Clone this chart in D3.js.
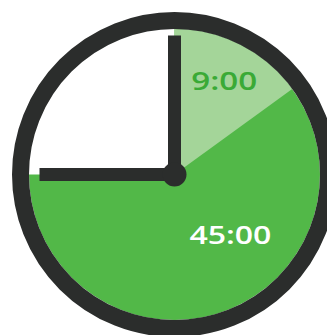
<!DOCTYPE html>
<html><head><meta charset="utf-8">
<script src="https://cdn.jsdelivr.net/npm/d3@7"></script>
<style>html,body{margin:0;padding:0;background:#fff;overflow:hidden}</style>
</head><body>
<svg id="chart" width="327" height="335"></svg>
<script>
// data (minutes on a 60-minute dial)
const dialMinutes = [0, 60];
const segmentNames = ["total", "elapsed"];
const segmentStart = [0, 0];
const segmentEnd = [45, 9];
const segmentLabels = ["45:00", "9:00"];
const handNames = ["minute", "hour"];
const handMinutes = [0, 45];

const svg = d3.select("#chart");
const cx = 174.5, cy = 174.5;
const ringR = 154, ringW = 17;
const pieR = ringR - ringW / 2;

const angle = d3.scaleLinear().domain(dialMinutes).range([0, 2 * Math.PI]);
const colors = d3.scaleOrdinal().domain(segmentNames).range(["#52b848", "#a4d599"]);
const textColors = d3.scaleOrdinal().domain(segmentNames).range(["#ffffff", "#3aaa36"]);

const g = svg.append("g").attr("transform", `translate(${cx},${cy})`);

const segs = segmentNames.map((n, i) => ({name: n, start: segmentStart[i], end: segmentEnd[i], label: segmentLabels[i]}));

const arc = d3.arc().innerRadius(0).outerRadius(pieR)
  .startAngle(d => angle(d.start)).endAngle(d => angle(d.end));

g.selectAll("path.seg").data(segs).enter().append("path")
  .attr("class", "seg").attr("d", arc).attr("fill", d => colors(d.name));

// labels placed in polar coords
const labelPos = {total: {a: 137, r: 82}, elapsed: {a: 28, r: 106}};
g.selectAll("text.lab").data(segs).enter().append("text")
  .attr("class", "lab")
  .attr("x", d => Math.sin(labelPos[d.name].a * Math.PI / 180) * labelPos[d.name].r)
  .attr("y", d => -Math.cos(labelPos[d.name].a * Math.PI / 180) * labelPos[d.name].r + 9.3)
  .attr("text-anchor", "middle")
  .attr("font-family", "Open Sans, sans-serif")
  .attr("font-weight", 600)
  .attr("font-size", 26)
  .attr("fill", d => textColors(d.name))
  .attr("textLength", d => d.name === "total" ? 82 : 66)
  .attr("lengthAdjust", "spacingAndGlyphs")
  .text(d => d.label);

// ring
g.append("circle").attr("r", ringR).attr("fill", "none")
  .attr("stroke", "#2b2d2c").attr("stroke-width", ringW);

// hands
const handLen = {minute: 139, hour: 135};
const hands = handNames.map((n, i) => ({name: n, m: handMinutes[i]}));
g.selectAll("line.hand").data(hands).enter().append("line")
  .attr("class", "hand")
  .attr("x1", 0).attr("y1", 0)
  .attr("x2", d => Math.sin(angle(d.m)) * handLen[d.name])
  .attr("y2", d => -Math.cos(angle(d.m)) * handLen[d.name])
  .attr("stroke", "#2b2d2c").attr("stroke-width", 13).attr("stroke-linecap", "butt");

g.append("circle").attr("r", 12).attr("fill", "#2b2d2c");
</script>
</body></html>
